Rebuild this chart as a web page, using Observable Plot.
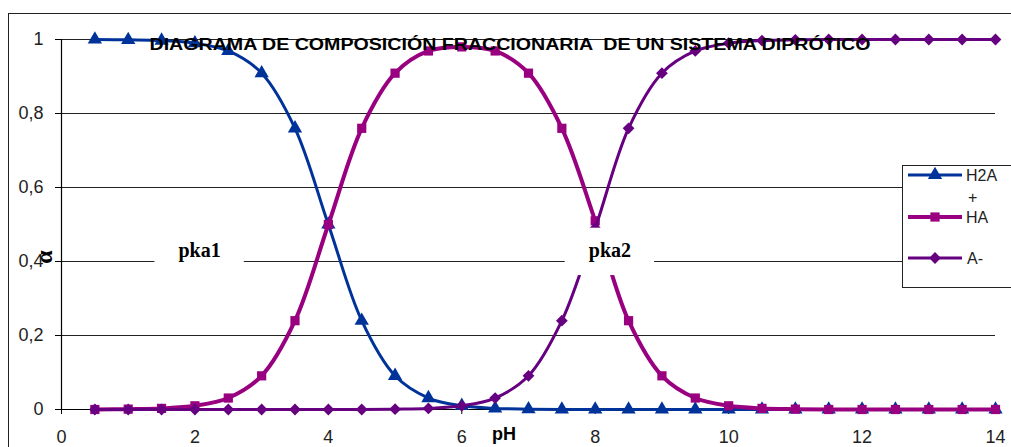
<!DOCTYPE html>
<html>
<head>
<meta charset="utf-8">
<script src="https://cdn.jsdelivr.net/npm/d3@7"></script>
<script src="https://cdn.jsdelivr.net/npm/@observablehq/plot@0.6"></script>
<style>
  html, body { margin: 0; padding: 0; background: #fff; }
  #chart { position: relative; width: 1011px; height: 447px; overflow: hidden; }
</style>
</head>
<body>
<div id="chart"></div>
<script>
// pH values at which the species fractions are tabulated
const pH = [0.5, 1, 1.5, 2, 2.5, 3, 3.5, 4, 4.5, 5, 5.5, 6, 6.5, 7, 7.5, 8, 8.5, 9, 9.5, 10, 10.5, 11, 11.5, 12, 12.5, 13, 13.5, 14];

// Fraction (alpha) of each species
const alphaH2A = [1.000, 0.999, 0.997, 0.990, 0.969, 0.909, 0.760, 0.500, 0.240, 0.091, 0.031, 0.010, 0.003, 0.001, 0.000, 0.000, 0.000, 0.000, 0.000, 0.000, 0.000, 0.000, 0.000, 0.000, 0.000, 0.000, 0.000, 0.000];
const alphaHA  = [0.000, 0.001, 0.003, 0.010, 0.031, 0.091, 0.240, 0.500, 0.760, 0.909, 0.969, 0.980, 0.969, 0.909, 0.760, 0.510, 0.240, 0.091, 0.031, 0.010, 0.003, 0.001, 0.000, 0.000, 0.000, 0.000, 0.000, 0.000];
const alphaA   = [0.000, 0.000, 0.000, 0.000, 0.000, 0.000, 0.000, 0.000, 0.000, 0.001, 0.003, 0.010, 0.031, 0.091, 0.240, 0.490, 0.760, 0.909, 0.969, 0.990, 0.997, 0.999, 1.000, 1.000, 1.000, 1.000, 1.000, 1.000];

const seriesNames   = ["H2A", "HA", "A-"];
const seriesColors  = ["#003399", "#990080", "#660080"];
const seriesSymbols = ["triangle", "square", "diamond2"];
const seriesWidths  = [3, 4, 3];
const seriesRadius  = [5.3, 5.2, 5.3];

const xTicks = [0, 2, 4, 6, 8, 10, 12, 14];
const yTicks = [0, 0.2, 0.4, 0.6, 0.8, 1];

// pKa annotations: label position (pH, alpha)
const pkaLabels = [
  {text: "pka1", pH: 2.07, alpha: 0.43},
  {text: "pka2", pH: 8.22, alpha: 0.43}
];

const titleText = "DIAGRAMA DE COMPOSICIÓN FRACCIONARIA  DE UN SISTEMA DIPRÓTICO";

const seriesValues = [alphaH2A, alphaHA, alphaA];
const table = seriesValues.map((vals, i) =>
  pH.map((x, j) => ({pH: x, alpha: vals[j], species: seriesNames[i]}))
);

const seriesMarks = table.flatMap((rows, i) => [
  Plot.line(rows, {x: "pH", y: "alpha", stroke: seriesColors[i], strokeWidth: seriesWidths[i], curve: "catmull-rom"}),
  Plot.dot(rows, {x: "pH", y: "alpha", fill: seriesColors[i], stroke: "none", symbol: seriesSymbols[i], r: seriesRadius[i]})
]);

const chart = Plot.plot({
  width: 1011,
  height: 447,
  marginLeft: 61,
  marginRight: 16,
  marginTop: 39,
  marginBottom: 38,
  style: {fontFamily: "'Liberation Sans', Arial, sans-serif", fontSize: "18px", color: "#000", background: "transparent", overflow: "visible"},
  x: {domain: [0, 14]},
  y: {domain: [0, 1]},
  marks: [
    Plot.gridY(yTicks, {stroke: "#222", strokeOpacity: 1, strokeWidth: 1}),
    Plot.ruleX([0], {stroke: "#000", strokeWidth: 1.2}),
    Plot.ruleY([0], {stroke: "#000", strokeWidth: 1.2}),
    Plot.axisY(yTicks, {label: null, tickSize: 6, tickPadding: 12, stroke: "#000", fill: "#222", tickFormat: d => String(d).replace(".", ",")}),
    Plot.axisX(xTicks, {label: null, tickSize: 5, tickPadding: 16, stroke: "#000", fill: "#222", tickFormat: d => String(d)}),
    ...seriesMarks,
    Plot.rect(pkaLabels, {x1: d => d.pH - 0.67, x2: d => d.pH + 0.67, y1: d => d.alpha - 0.068, y2: d => d.alpha + 0.06, fill: "#fff"}),
    Plot.text(pkaLabels, {x: "pH", y: "alpha", text: "text", fontFamily: "'Liberation Serif', 'Times New Roman', serif", fontWeight: "bold", fontSize: 20, fill: "#000"})
  ]
});

// Outer chart-area border (left and top edges)
const border = document.createElement("div");
border.style.cssText = "position:absolute;left:8px;top:13px;width:1100px;height:500px;border-left:1px solid #222;border-top:1px solid #222;";
chart.style.position = "absolute";
chart.style.left = "0";
chart.style.top = "0";
const host = document.getElementById("chart");
host.appendChild(border);
host.appendChild(chart);

const svg = d3.select(chart);

// Axis titles
svg.append("text")
  .attr("x", 504).attr("y", 440)
  .attr("text-anchor", "middle")
  .attr("font-family", "'Liberation Sans', Arial, sans-serif")
  .attr("font-weight", "bold").attr("font-size", 18)
  .text("pH");

svg.append("text")
  .attr("transform", "translate(52,257) rotate(-90)")
  .attr("text-anchor", "middle")
  .attr("font-family", "'Liberation Serif', 'Times New Roman', serif")
  .attr("font-weight", "bold").attr("font-size", 24)
  .text("α");

// Chart title
svg.append("text")
  .attr("x", 510).attr("y", 50)
  .attr("text-anchor", "middle")
  .attr("font-family", "'Liberation Sans', Arial, sans-serif")
  .attr("font-weight", "bold").attr("font-size", 16)
  .attr("textLength", 721).attr("lengthAdjust", "spacingAndGlyphs")
  .style("white-space", "pre")
  .text(titleText);

// Legend
const lg = svg.append("g").attr("text-anchor", "start");
lg.append("rect")
  .attr("x", 902.5).attr("y", 165.5).attr("width", 200).attr("height", 122)
  .attr("fill", "#fff").attr("stroke", "#222").attr("stroke-width", 1);
const legendRows = [175, 217, 258];
const symbolTypes = {triangle: d3.symbolTriangle, square: d3.symbolSquare, diamond2: d3.symbolDiamond2};
seriesNames.forEach((name, i) => {
  const y = legendRows[i];
  lg.append("line")
    .attr("x1", 908).attr("x2", 962).attr("y1", y).attr("y2", y)
    .attr("stroke", seriesColors[i]).attr("stroke-width", seriesWidths[i]);
  lg.append("path")
    .attr("transform", `translate(935,${y})`)
    .attr("d", d3.symbol(symbolTypes[seriesSymbols[i]], Math.PI * seriesRadius[i] ** 2)())
    .attr("fill", seriesColors[i]);
});
const legendFont = "'Liberation Sans', Arial, sans-serif";
const legendText = (x, y, t) => lg.append("text")
  .attr("x", x).attr("y", y).attr("text-anchor", "start")
  .attr("font-family", legendFont).attr("font-size", 16).attr("fill", "#222").text(t);
legendText(966, 181, "H2A");
legendText(968, 203, "+");
legendText(966, 223, "HA");
legendText(967, 264, "A-");
</script>
</body>
</html>
